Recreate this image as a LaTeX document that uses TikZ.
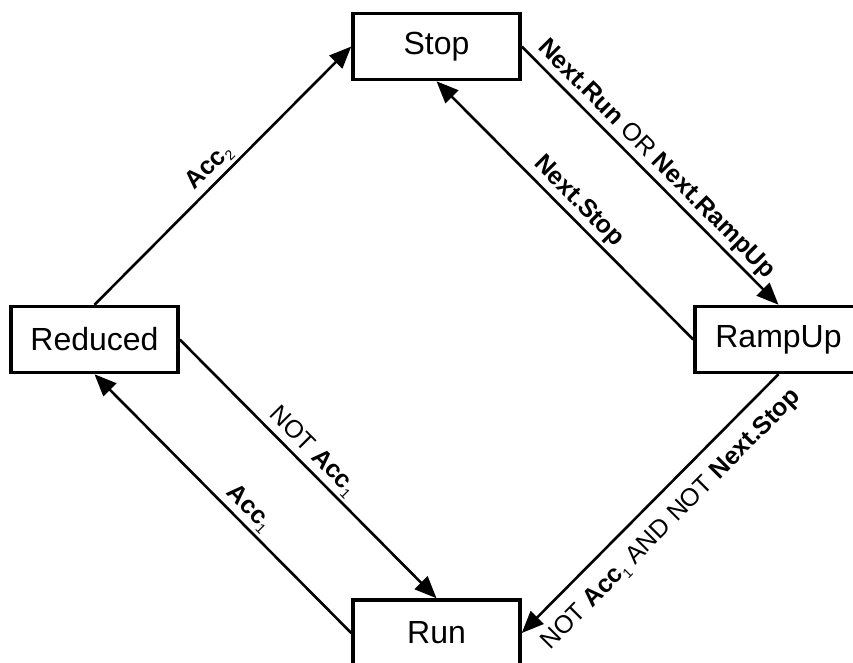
\documentclass[tikz,border=0pt]{standalone}
\usepackage{fontspec}
\setmainfont{Liberation Sans}
\usetikzlibrary{arrows.meta}
\newcommand{\accn}[1]{\textbf{Acc}\raisebox{-0.2em}{\fontsize{14}{14}\selectfont\mdseries #1}}

\begin{document}
\begin{tikzpicture}[x=1pt,y=-1pt,
    state/.style={draw,line width=3.5pt,minimum width=167pt,minimum height=66pt,inner sep=0pt,font=\fontsize{32}{38}\selectfont},
    trans/.style={-{Triangle[length=22pt,width=18pt]},line width=2.6pt},
    lbl/.style={sloped,inner sep=3pt,font=\fontsize{25}{30}\selectfont}]
    \useasboundingbox (0,0) rectangle (853,662);
    \node[state] (stop) at (436.5,46.5) {Stop};
    \node[state] (reduced) at (94.5,339.5) {Reduced};
    \node[state] (rampup) at (778.5,339.5) {RampUp};
    \node[state] (run) at (436.5,633) {Run};
    \draw[trans] (reduced.north)--(stop.west) node[lbl,above,pos=0.49]{\accn{2}};
    \draw[trans] (stop.east)--(rampup.north) node[lbl,above,pos=0.48]{\textbf{Next.Run} OR \textbf{Next.RampUp}};
    \draw[trans] (rampup.west)--(stop.south) node[lbl,above,pos=0.49]{\textbf{Next.Stop}};
    \draw[trans] (rampup.south)--(run.east) node[lbl,below=11pt,pos=0.49]{NOT \accn{1} AND NOT \textbf{Next.Stop}};
    \draw[trans] (reduced.east)--(run.north) node[lbl,above,pos=0.475]{NOT \accn{1}};
    \draw[trans] (run.west)--(reduced.south) node[lbl,above,pos=0.44]{\accn{1}};
\end{tikzpicture}
\end{document}
